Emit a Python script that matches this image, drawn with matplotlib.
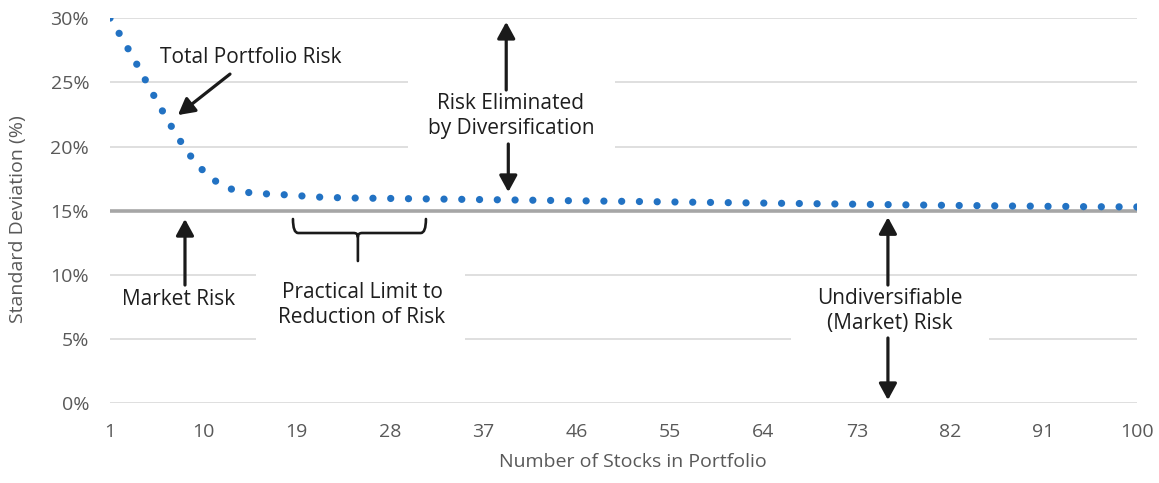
import matplotlib
matplotlib.use("Agg")
import matplotlib.pyplot as plt
from matplotlib.patches import Rectangle, PathPatch
from matplotlib.path import Path

plt.rcParams['font.family'] = ['Open Sans', 'DejaVu Sans']

# Portfolio standard deviation (%) for 1..100 stocks
stocks = list(range(1, 101))
portfolio_risk = [
    30.00, 28.65, 27.25, 25.80, 24.30, 22.85, 21.45, 20.15, 19.00, 18.10,
    17.40, 16.90, 16.60, 16.45, 16.37, 16.32, 16.28, 16.24, 16.19, 16.12,
    16.07, 16.04, 16.02, 16.00, 15.99, 15.98, 15.97, 15.96, 15.95, 15.94,
    15.93, 15.92, 15.91, 15.90, 15.89, 15.88, 15.87, 15.86, 15.85, 15.84,
    15.83, 15.82, 15.81, 15.80, 15.79, 15.78, 15.77, 15.76, 15.75, 15.74,
    15.73, 15.72, 15.71, 15.70, 15.69, 15.68, 15.67, 15.66, 15.65, 15.64,
    15.63, 15.62, 15.61, 15.60, 15.59, 15.58, 15.57, 15.56, 15.55, 15.54,
    15.53, 15.52, 15.51, 15.50, 15.49, 15.48, 15.47, 15.46, 15.45, 15.44,
    15.43, 15.42, 15.41, 15.40, 15.40, 15.39, 15.38, 15.37, 15.37, 15.36,
    15.35, 15.34, 15.34, 15.33, 15.32, 15.32, 15.31, 15.31, 15.30, 15.30,
]
market_risk = 15.0

x_ticks = [1, 10, 19, 28, 37, 46, 55, 64, 73, 82, 91, 100]
y_ticks = [0, 5, 10, 15, 20, 25, 30]
y_tick_labels = ["0%", "5%", "10%", "15%", "20%", "25%", "30%"]

TICK_COLOR = "#595959"
TEXT_COLOR = "#1e1e1e"
ARROW_COLOR = "#1a1a1a"

fig = plt.figure(figsize=(11.59, 4.83), dpi=100)
ax = fig.add_axes([0.0949, 0.1646, 0.886, 0.798])

ax.set_xlim(1, 100)
ax.set_ylim(0, 30)
ax.set_xticks(x_ticks)
ax.set_yticks(y_ticks)
ax.set_yticklabels(y_tick_labels)
ax.tick_params(length=0, labelsize=14, labelcolor=TICK_COLOR)
ax.tick_params(axis='y', pad=15)
ax.tick_params(axis='x', pad=14)
for s in ax.spines.values():
    s.set_visible(False)
ax.set_axisbelow(True)
ax.yaxis.grid(True, color="#d9d9d9", linewidth=1.2)

ax.set_xlabel("Number of Stocks in Portfolio", fontsize=14, color=TICK_COLOR)
ax.set_ylabel("Standard Deviation (%)", fontsize=14, color=TICK_COLOR)
ax.xaxis.set_label_coords(0.509, -0.128)
ax.yaxis.set_label_coords(-0.081, 0.478)

# white text-box backgrounds that interrupt the gridlines
for (x0, x1, y0, y1) in [(29.7, 49.7, 19.0, 26.5),
                         (66.7, 85.7, 3.5, 9.5),
                         (15.1, 35.2, 3.5, 10.6)]:
    ax.add_patch(Rectangle((x0, y0), x1 - x0, y1 - y0, facecolor="white",
                           edgecolor="none", zorder=1))

# market risk level
ax.axhline(market_risk, color="#a6a6a6", linewidth=2.6, zorder=2)

# total portfolio risk, drawn as a round-dot line
ax.plot(stocks, portfolio_risk, color="#2272c3", linewidth=5.2,
        linestyle=(0, (0.01, 2.45)), dash_capstyle="round", zorder=3)

arrow_kw = dict(arrowstyle="-|>,head_length=0.55,head_width=0.3",
                color=ARROW_COLOR, lw=2.3, mutation_scale=18,
                shrinkA=0, shrinkB=0)

def arrow(x0, y0, x1, y1):
    ax.annotate("", xy=(x1, y1), xytext=(x0, y0), arrowprops=arrow_kw, zorder=4)

txt_kw = dict(ha="center", va="center", fontsize=15, color=TEXT_COLOR,
              linespacing=1.25, zorder=5)

ax.text(14.6, 26.96, "Total Portfolio Risk", **txt_kw)
arrow(12.57, 25.64, 7.55, 22.45)

ax.text(39.65, 22.37, "Risk Eliminated\nby Diversification", **txt_kw)
arrow(39.2, 24.4, 39.2, 29.7)
arrow(39.4, 20.2, 39.4, 16.46)

ax.text(76.2, 7.2, "Undiversifiable\n(Market) Risk", **txt_kw)
arrow(76.0, 9.22, 76.0, 14.5)
arrow(76.0, 5.1, 76.0, 0.27)

ax.text(7.65, 8.13, "Market Risk", **txt_kw)
arrow(8.23, 9.22, 8.23, 14.36)

ax.text(25.3, 7.66, "Practical Limit to\nReduction of Risk", **txt_kw)

# curly bracket under the flat part of the curve
bl, br, bt, bb, bm, bs = 18.64, 31.46, 14.36, 13.27, 24.9, 11.09
verts = [(bl, bt), (bl, bb), (bl + 0.5, bb),
         (bm - 0.4, bb), (bm, bb), (bm, bb - 0.3),
         (bm, bs),
         (bm, bb - 0.3), (bm, bb), (bm + 0.4, bb),
         (br - 0.5, bb), (br, bb), (br, bt)]
codes = [Path.MOVETO, Path.CURVE3, Path.CURVE3,
         Path.LINETO, Path.CURVE3, Path.CURVE3,
         Path.LINETO,
         Path.MOVETO, Path.CURVE3, Path.CURVE3,
         Path.LINETO, Path.CURVE3, Path.CURVE3]
ax.add_patch(PathPatch(Path(verts, codes), facecolor="none",
                       edgecolor=ARROW_COLOR, lw=1.9, zorder=4,
                       capstyle="round", joinstyle="round"))

fig.savefig("out.png", dpi=100)
